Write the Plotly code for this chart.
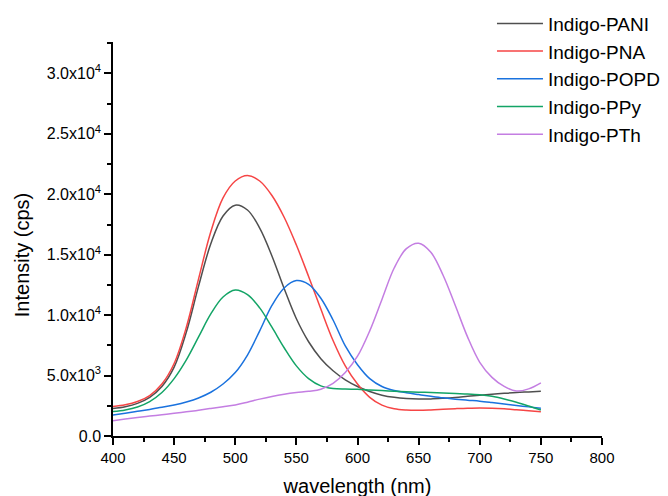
import plotly.graph_objects as go

wavelength = list(range(400, 751, 10))

pani = [2270, 2420, 2700, 3200, 4100, 5700, 8600, 12400, 15900, 18200,
        19100, 18700, 17200, 14900, 12200, 9700, 7800, 6400, 5400, 4650,
        4100, 3680, 3380, 3200, 3100, 3060, 3070, 3120, 3190, 3280,
        3370, 3450, 3530, 3600, 3650, 3700]

pna = [2450, 2580, 2850, 3350, 4300, 6000, 9000, 13000, 16900, 19700,
       21100, 21550, 21100, 19900, 18100, 15800, 13200, 10500, 7900, 5800,
       4300, 3200, 2550, 2250, 2150, 2130, 2160, 2210, 2260, 2300,
       2320, 2300, 2250, 2170, 2090, 2000]

popd = [1745, 1890, 2040, 2200, 2370, 2570, 2820, 3150, 3620, 4300,
        5250, 6700, 8700, 10800, 12250, 12860, 12550, 11400, 9600, 7450,
        5900, 4750, 4100, 3770, 3580, 3430, 3290, 3160, 3050, 2960,
        2880, 2770, 2650, 2530, 2410, 2290]

ppy = [2020, 2150, 2400, 2850, 3600, 4750, 6300, 8200, 10100, 11500,
       12080, 11700, 10600, 9000, 7300, 5800, 4750, 4150, 3930, 3880,
       3860, 3810, 3760, 3710, 3670, 3630, 3590, 3550, 3510, 3475,
       3410, 3280, 3060, 2790, 2480, 2150]

pth = [1270, 1400, 1530, 1650, 1760, 1880, 2000, 2130, 2280, 2420,
       2570, 2800, 3050, 3270, 3450, 3590, 3700, 3870, 4350, 5250,
       6600, 8700, 11300, 13900, 15500, 15950, 15200, 13300, 10800, 8200,
       6100, 4850, 4100, 3720, 3900, 4400]

series_names = ["Indigo-PANI", "Indigo-PNA", "Indigo-POPD", "Indigo-PPy", "Indigo-PTh"]
series_values = [pani, pna, popd, ppy, pth]
series_colors = ["#4f4f4f", "#f64545", "#1a72de", "#13a466", "#c47ee2"]

y_tickvals = [0, 5000, 10000, 15000, 20000, 25000, 30000]
y_ticktext = ["0.0", "5.0x10<sup>3</sup>", "1.0x10<sup>4</sup>", "1.5x10<sup>4</sup>",
              "2.0x10<sup>4</sup>", "2.5x10<sup>4</sup>", "3.0x10<sup>4</sup>"]
y_minor_vals = [2500, 7500, 12500, 17500, 22500, 27500, 32500]
x_tickvals = [400, 450, 500, 550, 600, 650, 700, 750, 800]

FONT = "Arial, 'Liberation Sans', sans-serif"

fig = go.Figure()
for name, vals, col in zip(series_names, series_values, series_colors):
    fig.add_trace(go.Scatter(
        x=wavelength, y=vals, name=name, mode="lines",
        line=dict(color=col, width=1.5, shape="spline", smoothing=1.0),
    ))

fig.update_layout(
    width=668, height=496,
    margin=dict(l=105, r=74, t=34, b=68, autoexpand=False),
    paper_bgcolor="white", plot_bgcolor="white",
    font=dict(family=FONT, color="black", size=15),
    showlegend=True,
    legend=dict(
        xref="paper", yref="paper",
        x=0.775, y=1.095, xanchor="left", yanchor="top",
        font=dict(size=19, family=FONT, color="black"),
        bgcolor="rgba(0,0,0,0)", borderwidth=0,
        tracegroupgap=0, itemwidth=46,
    ),
    xaxis=dict(
        range=[400, 800], tickvals=x_tickvals,
        showline=True, linecolor="black", linewidth=1.5,
        ticks="outside", ticklen=7, tickwidth=1.5, tickcolor="black",
        showgrid=False, zeroline=False,
        tickfont=dict(size=15, family=FONT, color="black"),
        minor=dict(dtick=25, ticks="outside", ticklen=4, tickwidth=1.5,
                   tickcolor="black", showgrid=False),
        title=dict(text="wavelength (nm)", font=dict(size=20, family=FONT, color="black"),
                   standoff=14),
    ),
    yaxis=dict(
        range=[0, 32600], tickvals=y_tickvals, ticktext=y_ticktext,
        showline=True, linecolor="black", linewidth=1.5,
        ticks="outside", ticklen=7, tickwidth=1.5, tickcolor="black",
        showgrid=False, zeroline=False,
        tickfont=dict(size=16, family=FONT, color="black"),
        minor=dict(tickvals=y_minor_vals, ticks="outside", ticklen=4, tickwidth=1.5,
                   tickcolor="black", showgrid=False),
    ),
    annotations=[dict(
        text="Intensity (cps)", textangle=-90,
        xref="paper", yref="paper", x=-0.186, y=0.459,
        xanchor="center", yanchor="middle", showarrow=False,
        font=dict(size=20, family=FONT, color="black"),
    )],
)

fig.write_html("out.html")
